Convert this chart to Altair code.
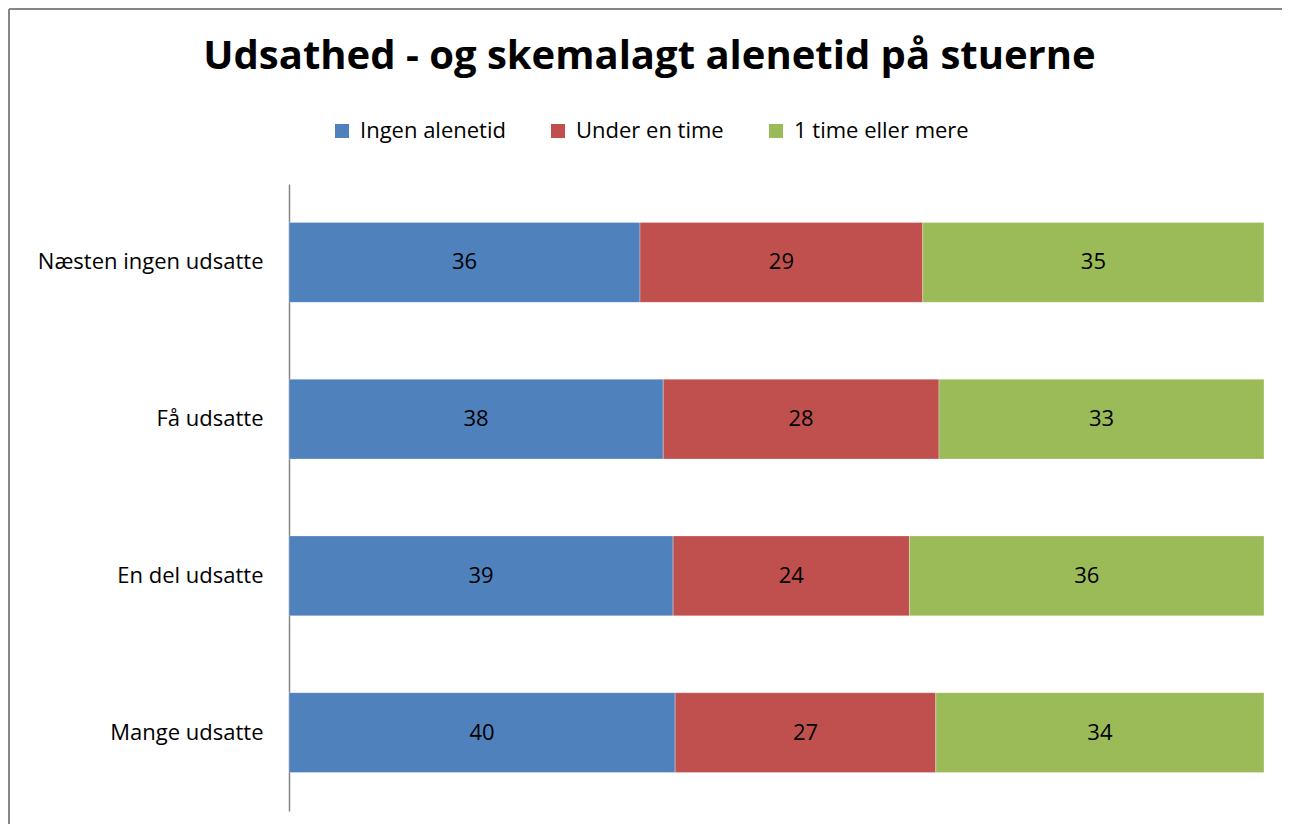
import altair as alt
import pandas as pd

categories = ["Næsten ingen udsatte", "Få udsatte", "En del udsatte", "Mange udsatte"]
series = ["Ingen alenetid", "Under en time", "1 time eller mere"]
ingen = [36, 38, 39, 40]
under = [29, 28, 24, 27]
mere = [35, 33, 36, 34]
colors = ["#4F81BD", "#C0504D", "#9BBB59"]

rows = []
for i, c in enumerate(categories):
    for j, (s, vals) in enumerate(zip(series, [ingen, under, mere])):
        rows.append({"cat": c, "serie": s, "value": vals[i], "order": j})
df = pd.DataFrame(rows)

FONT = "Open Sans"
FS = 22
W, H = 975, 627

base = alt.Chart(df).transform_stack(
    stack="value", groupby=["cat"], sort=[alt.SortField("order")],
    as_=["x0", "x1"], offset="normalize"
).transform_calculate(mid="(datum.x0 + datum.x1) / 2")

yenc = alt.Y("cat:N", sort=categories, title=None,
             scale=alt.Scale(paddingInner=0.49, paddingOuter=0.245),
             axis=alt.Axis(labelFontSize=FS, labelFont=FONT, labelColor="black",
                           ticks=False, labelPadding=26, domainColor="#868686",
                           domainWidth=1.5, labelLimit=400))

bars = base.mark_bar(stroke="white", strokeWidth=0.6, strokeOpacity=0.5).encode(
    x=alt.X("x0:Q", axis=None, scale=alt.Scale(domain=[0, 1], nice=False)),
    x2="x1:Q",
    y=yenc,
    color=alt.Color("serie:N", sort=series,
                    scale=alt.Scale(domain=series, range=colors),
                    legend=alt.Legend(orient="none", legendX=42, legendY=-64,
                                      direction="horizontal", title=None,
                                      symbolType="square", symbolSize=196,
                                      symbolStrokeWidth=0, labelFontSize=FS,
                                      labelFont=FONT, labelColor="black",
                                      labelLimit=400,
                                      columnPadding=41, labelOffset=7,
                                      symbolOpacity=1)),
)

labels = base.mark_text(fontSize=FS, font=FONT, color="black").encode(
    x=alt.X("mid:Q"),
    y=alt.Y("cat:N", sort=categories),
    text=alt.Text("value:Q"),
)

frame_left = alt.Chart(df).mark_rule(stroke="#868686", strokeWidth=1.5).encode(
    x=alt.value(-280), y=alt.value(-175), y2=alt.value(640)
)
frame_top = alt.Chart(df).mark_rule(stroke="#868686", strokeWidth=1.5).encode(
    x=alt.value(-280), x2=alt.value(993), y=alt.value(-175)
)

chart = alt.layer(frame_left, frame_top, bars, labels).properties(
    width=W, height=H,
    background="white",
    padding={"left": 0, "top": 0, "right": 0, "bottom": 0},
    title=alt.TitleParams("Udsathed - og skemalagt alenetid på stuerne",
                          fontSize=40, font=FONT, fontWeight="bold",
                          color="black", anchor="middle", frame="bounds",
                          offset=-69, dx=4),
).configure_view(strokeWidth=0, stroke="transparent")

chart.save("out.html", embed_options={"renderer": "svg", "actions": False})
